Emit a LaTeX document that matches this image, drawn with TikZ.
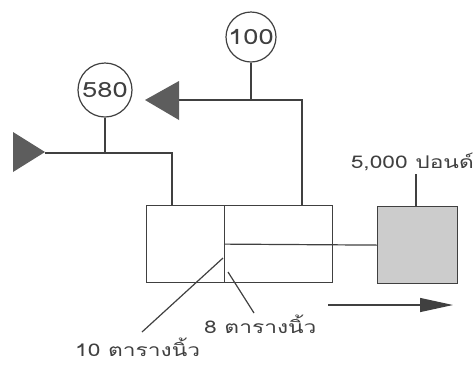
\documentclass[tikz,border=0pt]{standalone}
\usepackage{fontspec}
\newfontfamily\thaifont[Script=Thai, FakeStretch=1.3]{Loma}
\usetikzlibrary{arrows.meta}
\definecolor{ink}{HTML}{404040}
\tikzset{
  ln/.style={draw=ink, line width=1.2pt},
  num/.style={circle, draw=ink, line width=1.2pt, inner sep=0pt, font=\thaifont\fontsize{21}{21}\selectfont, text=ink},
  lbl/.style={font=\thaifont\fontsize{17.5}{17.5}\selectfont, text=ink, inner sep=0pt},
  tri/.style={fill=ink!85},
}
\begin{document}
\begin{tikzpicture}[x=1pt,y=-1pt]
\useasboundingbox (0,0) rectangle (476,365);
% circles
\node[num, minimum size=50pt] (c100) at (251,37) {100};
\node[num, minimum size=54pt] (c580) at (105,90) {580};
% junctions
\coordinate (j100) at (251,100);
\coordinate (j580) at (105,153);
\coordinate (topR) at (302,100);
\coordinate (topL) at (179,100);
\coordinate (midR) at (172,153);
\coordinate (midL) at (45,153);
% boxes
\node[ln, minimum width=78pt, minimum height=77pt, inner sep=0pt, anchor=north west] (boxL) at (146,205) {};
\node[ln, minimum width=108pt, minimum height=77pt, inner sep=0pt, anchor=north west] (boxR) at (224,205) {};
\node[draw=ink, line width=1.2pt, fill=gray!40, minimum width=80pt, minimum height=77pt, inner sep=0pt, anchor=north west] (sq) at (377,206) {};
% lines
\draw[ln] (c100.south) -- (j100);
\draw[ln] (c580.south) -- (j580);
\draw[ln] (topL) -- (topR) -- (boxR.north west -| topR);
\draw[ln] (midL) -- (midR) -- (boxL.north west -| midR);
\draw[ln] (boxR.west) -- (sq.west);
% triangles
\fill[tri] (145,100) -- (179,81) -- (179,120) -- cycle;
\fill[tri] (13,132) -- (45,152) -- (13,172) -- cycle;
% square label
\node[lbl, anchor=base east] (t5000) at (474,168) {5,000 ปอนด์};
\coordinate (s5000) at (416,174);
\draw[ln] (s5000) -- (sq.north -| s5000);
% flow arrow
\coordinate (fa) at (328,305);
\coordinate (fb) at (453,305);
\draw[ln, -{Triangle[length=33pt, width=14pt]}] (fa) -- (fb);
% dimension labels
\node[lbl, anchor=base west] (t10) at (75,356) {10 ตารางนิ้ว};
\node[lbl, anchor=base west] (t8) at (204,333) {8 ตารางนิ้ว};
\coordinate (p10) at (223,258);
\coordinate (p8) at (228,272);
\draw[ln] (p10) -- (142,332);
\draw[ln] (p8) -- (254,313);
\end{tikzpicture}
\end{document}
